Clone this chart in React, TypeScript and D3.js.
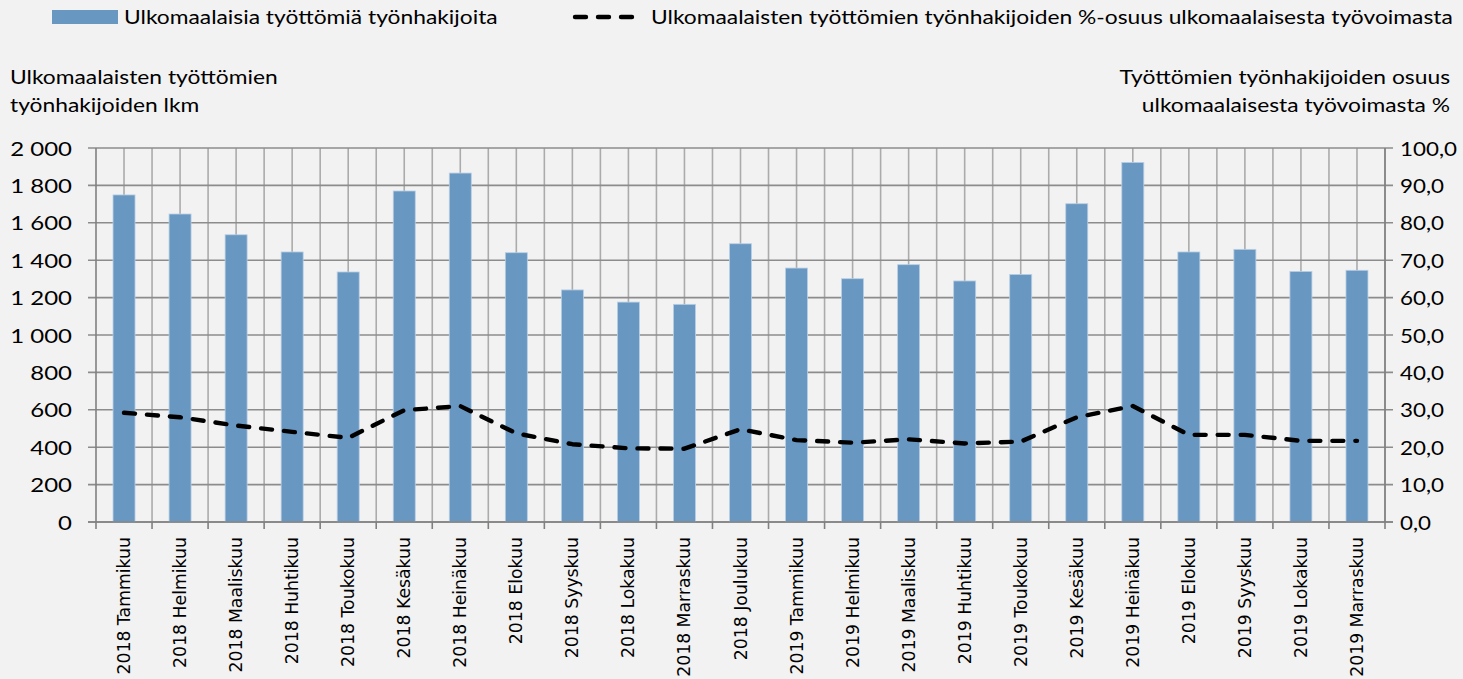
import React from "react";
import * as d3 from "d3";

const categories = [
  "2018 Tammikuu", "2018 Helmikuu", "2018 Maaliskuu", "2018 Huhtikuu", "2018 Toukokuu",
  "2018 Kesäkuu", "2018 Heinäkuu", "2018 Elokuu", "2018 Syyskuu", "2018 Lokakuu",
  "2018 Marraskuu", "2018 Joulukuu", "2019 Tammikuu", "2019 Helmikuu", "2019 Maaliskuu",
  "2019 Huhtikuu", "2019 Toukokuu", "2019 Kesäkuu", "2019 Heinäkuu", "2019 Elokuu",
  "2019 Syyskuu", "2019 Lokakuu", "2019 Marraskuu",
];
const jobseekers = [
  1749, 1647, 1536, 1444, 1337, 1770, 1866, 1440, 1241, 1176, 1164, 1488,
  1358, 1301, 1376, 1289, 1324, 1702, 1923, 1444, 1458, 1340, 1346,
];
const sharePct = [
  29.2, 28.0, 25.8, 24.1, 22.5, 29.9, 31.0, 23.7, 20.8, 19.7, 19.6, 24.8,
  21.9, 21.2, 22.1, 21.0, 21.5, 28.0, 31.0, 23.3, 23.3, 21.7, 21.7,
];
const leftTicks = [0, 200, 400, 600, 800, 1000, 1200, 1400, 1600, 1800, 2000];
const rightTicks = [0, 10, 20, 30, 40, 50, 60, 70, 80, 90, 100];
const barLegend = "Ulkomaalaisia työttömiä työnhakijoita";
const lineLegend = "Ulkomaalaisten työttömien työnhakijoiden %-osuus ulkomaalaisesta työvoimasta";
const leftTitle = ["Ulkomaalaisten työttömien", "työnhakijoiden lkm"];
const rightTitle = ["Työttömien työnhakijoiden osuus", "ulkomaalaisesta työvoimasta %"];

const W = 1463;
const H = 679;
const M = { left: 96, right: 1385, top: 148, bottom: 522 };
const FONT = "Lato, 'Open Sans', sans-serif";

function SText(props: any) {
  const { x, y, anchor = "start", size = 20, sx = 1.14, children, family = FONT } = props;
  return (
    <text
      transform={`translate(${x},${y}) scale(${sx},1)`}
      textAnchor={anchor}
      dominantBaseline="central"
      fontSize={size}
      fontFamily={family}
      fill="#000"
    >
      {children}
    </text>
  );
}

export default function App() {
  const x = d3.scaleBand<string>().domain(categories).range([M.left, M.right]).padding(0);
  const yL = d3.scaleLinear().domain([0, 2000]).range([M.bottom, M.top]);
  const yR = d3.scaleLinear().domain([0, 100]).range([M.bottom, M.top]);
  const bw = x.bandwidth();
  const barW = 22;
  const fmtL = (v: number) => d3.format(",")(v).replace(/,/g, " ");
  const fmtR = (v: number) => d3.format(".1f")(v).replace(".", ",");
  const line = d3
    .line<number>()
    .x((_, i) => (x(categories[i]) as number) + bw / 2)
    .y((d) => yR(d));

  const vLines: number[] = [];
  categories.forEach((c) => {
    const x0 = x(c) as number;
    vLines.push(x0 + bw / 2);
    vLines.push(x0 + bw);
  });

  return (
    <svg
      width={W}
      height={H}
      style={{ position: "absolute", left: 0, top: 0, display: "block" }}
    >
      <rect x={0} y={0} width={W} height={H} fill="#f2f2f2" />

      {/* vertical grid */}
      {vLines.map((vx, i) => (
        <line key={"v" + i} x1={vx} x2={vx} y1={M.top} y2={M.bottom} stroke="#ababab" strokeWidth={1.6} />
      ))}
      {/* horizontal grid */}
      {leftTicks.map((t) => (
        <line key={"h" + t} x1={M.left - 8} x2={M.right + 8} y1={yL(t)} y2={yL(t)} stroke="#8c8c8c" strokeWidth={1.6} />
      ))}

      {/* bars */}
      {jobseekers.map((v, i) => (
        <rect
          key={"b" + i}
          x={(x(categories[i]) as number) + bw / 2 - barW / 2}
          y={yL(v)}
          width={barW}
          height={yL(0) - yL(v)}
          fill="#6897c1"
          stroke="#b9cfe4"
          strokeWidth={0.8}
        />
      ))}

      {/* axes */}
      <line x1={M.left} x2={M.left} y1={M.top} y2={M.bottom} stroke="#808080" strokeWidth={1.6} />
      <line x1={M.right} x2={M.right} y1={M.top} y2={M.bottom} stroke="#808080" strokeWidth={1.6} />
      <line x1={M.left - 8} x2={M.right + 8} y1={M.bottom} y2={M.bottom} stroke="#808080" strokeWidth={1.6} />
      {categories.map((c, i) => (
        <line
          key={"t" + i}
          x1={(x(c) as number)}
          x2={(x(c) as number)}
          y1={M.bottom}
          y2={M.bottom + 7}
          stroke="#808080"
          strokeWidth={1.6}
        />
      ))}
      <line x1={M.right} x2={M.right} y1={M.bottom} y2={M.bottom + 7} stroke="#808080" strokeWidth={1.6} />

      {/* line series */}
      <path
        d={line(sharePct) as string}
        fill="none"
        stroke="#000"
        strokeWidth={4.4}
        strokeDasharray="11 12"
        strokeLinecap="round"
        strokeLinejoin="round"
      />

      {/* left ticks */}
      {leftTicks.map((t) => (
        <SText key={"lt" + t} x={72} y={yL(t)} anchor="end" size={20} sx={1.2}>
          {fmtL(t)}
        </SText>
      ))}
      {/* right ticks */}
      {rightTicks.map((t) => (
        <SText key={"rt" + t} x={1400} y={yR(t)} anchor="start" size={20} sx={1.12}>
          {fmtR(t)}
        </SText>
      ))}

      {/* x labels */}
      {categories.map((c) => (
        <text
          key={"xl" + c}
          transform={`translate(${(x(c) as number) + bw / 2},537) rotate(-90)`}
          textAnchor="end"
          dominantBaseline="central"
          fontSize={17.3}
          fontFamily="'DejaVu Sans', sans-serif"
          fill="#000"
        >
          {c}
        </text>
      ))}

      {/* axis titles */}
      {leftTitle.map((t, i) => (
        <SText key={"ltt" + i} x={10} y={77 + i * 28} anchor="start">
          {t}
        </SText>
      ))}
      {rightTitle.map((t, i) => (
        <SText key={"rtt" + i} x={1450} y={77 + i * 28} anchor="end">
          {t}
        </SText>
      ))}

      {/* legend */}
      <rect x={52} y={10} width={66} height={14} fill="#6897c1" />
      <SText x={124} y={17} anchor="start">
        {barLegend}
      </SText>
      <line
        x1={575}
        x2={632}
        y1={17}
        y2={17}
        stroke="#000"
        strokeWidth={4.4}
        strokeDasharray="11 12"
        strokeLinecap="round"
      />
      <SText x={651} y={17} anchor="start">
        {lineLegend}
      </SText>
    </svg>
  );
}
